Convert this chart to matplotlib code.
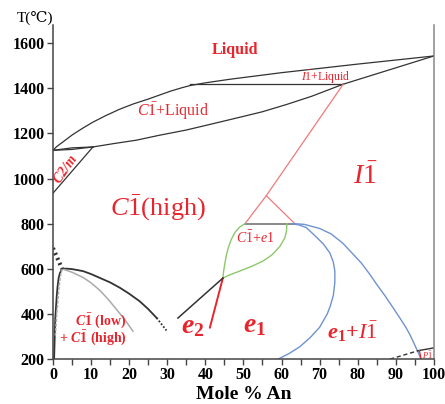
import matplotlib
matplotlib.use("Agg")
import matplotlib.pyplot as plt

plt.rcParams['font.family'] = ['Liberation Serif', 'DejaVu Serif']
plt.rcParams['mathtext.fontset'] = 'custom'
plt.rcParams['mathtext.rm'] = 'Liberation Serif'
plt.rcParams['mathtext.it'] = 'Liberation Serif:italic'
plt.rcParams['mathtext.bf'] = 'Liberation Serif:bold'
plt.rcParams['mathtext.bfit'] = 'Liberation Serif:italic:bold'

RED = "#e8252d"

# liquidus / solidus
liq_x = [0, 1, 2.6, 5.2, 8, 10.5, 14, 17.5, 21, 25, 28, 31, 34, 36, 40, 46.5, 60, 80, 100]
liq_T = [1125, 1142, 1162, 1195, 1225, 1250, 1280, 1307, 1330, 1352, 1370, 1388, 1403, 1412, 1424, 1440, 1469, 1507, 1543]
sol_x = [10.5, 16, 21.9, 28, 35, 42, 49.9, 55, 61.3, 68, 76.2]
sol_T = [1140, 1155, 1170, 1192, 1215, 1243, 1275, 1296, 1328, 1365, 1418]
sol_i_x = [76.2, 100]
sol_i_T = [1418, 1543]
peri_x = [36, 76.2]
peri_T = [1418, 1418]
lens_a_x = [0, 5, 10.5]
lens_a_T = [1125, 1136, 1140]
lens_b_x = [0, 5, 10.5]
lens_b_T = [1125, 1129, 1140]
c2m_x = [10.5, 0]
c2m_T = [1140, 935]

# C-1 / e1 region near 800
tie_x = [50.4, 63.5]
tie_T = [800, 800]
tri_x = [50.4, 56, 63.5]
tri_T = [800, 924, 800]
red_up_x = [56, 76.2]
red_up_T = [924, 1418]
green_l_x = [44.6, 44.8, 45.1, 45.5, 46, 46.8, 47.8, 49, 50.4]
green_l_T = [559, 590, 621, 658, 692, 730, 762, 785, 800]
green_r_x = [44.6, 46.5, 49, 52, 55.1, 57.5, 59.6, 60.8, 61.3, 61.4]
green_r_T = [559, 574, 590, 610, 634, 662, 700, 735, 765, 800]
red_lo_x = [44.6, 41.2]
red_lo_T = [559, 340]
blk_lo_x = [44.6, 32.8]
blk_lo_T = [559, 382]

# e1 / I-1 solvi
blue_in_x = [62.5, 64.5, 66.5, 69.2, 71, 72.7, 73.6, 74, 74, 73.6, 72.8, 72, 70, 67.5, 64.8, 62, 59.1]
blue_in_T = [800, 795, 783, 740, 710, 670, 630, 590, 540, 482, 435, 400, 341, 295, 255, 225, 200]
blue_out_x = [63.5, 66, 70, 73, 76, 78.8, 81, 83, 85, 87, 89, 91, 92.5, 93.7, 95, 96, 96.6]
blue_out_T = [800, 797, 779, 755, 715, 665, 625, 580, 531, 485, 435, 384, 345, 309, 262, 225, 200]

# Ab-rich solvi
solv_k_x = [2.4, 3.5, 5, 7.9, 10, 12.3, 15, 17.6, 20, 22.8, 25, 27.2]
solv_k_T = [600, 601, 599, 590, 577, 560, 540, 516, 490, 456, 422, 383]
solv_k_dot_x = [27.2, 29.8]
solv_k_dot_T = [383, 327]
solv_g_x = [2.4, 5, 7.9, 10, 12.3, 14.5, 16.7, 19, 21]
solv_g_T = [600, 585, 562, 538, 505, 465, 420, 372, 324]
steep_k_x = [2.4, 1.8, 1.5, 1.2, 1.0, 0.8, 0.6, 0.3]
steep_k_T = [600, 580, 560, 520, 480, 430, 380, 200]
steep_g_x = [2.4, 2.1, 1.9, 1.6, 1.4, 1.0, 0.6]
steep_g_T = [600, 580, 560, 520, 480, 400, 300]
hatch_x = [0, 2.4]
hatch_T = [692, 600]

# anorthite corner
dash_x = [88.5, 96]
dash_T = [200, 238]
pi_x = [96, 100]
pi_T = [238, 250]
pi_red_x = [96.6, 96.2]
pi_red_T = [205, 238]

fig = plt.figure(figsize=(4.45, 4.04), dpi=100)
ax = fig.add_axes([0.119, 0.111, 0.856, 0.827])

k = "#333333"
ax.plot(liq_x, liq_T, color=k, lw=0.9)
ax.plot(sol_x, sol_T, color=k, lw=0.9)
ax.plot(sol_i_x, sol_i_T, color=k, lw=0.9)
ax.plot(peri_x, peri_T, color=k, lw=0.9)
ax.plot(lens_a_x, lens_a_T, color=k, lw=0.9)
ax.plot(lens_b_x, lens_b_T, color=k, lw=0.9)
ax.plot(c2m_x, c2m_T, color=k, lw=0.9)

ax.plot(tie_x, tie_T, color="#777777", lw=1.2)
ax.plot(tri_x, tri_T, color="#f07a7a", lw=0.9)
ax.plot(red_up_x, red_up_T, color="#f07a7a", lw=0.9)
ax.plot(green_l_x, green_l_T, color="#8cc96a", lw=1.0)
ax.plot(green_r_x, green_r_T, color="#8cc96a", lw=1.0)
ax.plot(red_lo_x, red_lo_T, color="#e8252d", lw=1.4)
ax.plot(blk_lo_x, blk_lo_T, color=k, lw=1.1)

ax.plot(blue_in_x, blue_in_T, color="#6f93cf", lw=1.0)
ax.plot(blue_out_x, blue_out_T, color="#6f93cf", lw=1.0)

ax.plot(solv_k_x, solv_k_T, color=k, lw=1.3)
ax.plot(solv_k_dot_x, solv_k_dot_T, color=k, lw=1.3, ls=(0, (1, 1)))
ax.plot(solv_g_x, solv_g_T, color="#aaaaaa", lw=1.1)
ax.plot(steep_k_x, steep_k_T, color=k, lw=1.3)
ax.plot(steep_g_x, steep_g_T, color="#aaaaaa", lw=1.1, ls=(0, (2, 1)))
ax.plot(hatch_x, hatch_T, color=k, lw=3, ls=(0, (0.5, 0.8)))

ax.plot(dash_x, dash_T, color=k, lw=1.0, ls=(0, (3, 2)))
ax.plot(pi_x, pi_T, color=k, lw=1.0)
ax.plot(pi_red_x, pi_red_T, color=RED, lw=0.9)

# labels
ax.text(47.8, 1570, "Liquid", color=RED, fontsize=11.5, fontweight="bold", ha="center", va="center")
ax.text(31.5, 1300, r"$C\bar{1}$+Liquid", color=RED, fontsize=11.5, ha="center", va="center")
ax.text(71.7, 1450, r"$I\bar{1}$+Liquid", color=RED, fontsize=8.5, ha="center", va="center")
ax.text(82, 1010, r"$I\bar{1}$", color=RED, fontsize=20, ha="center", va="center")
ax.text(27.6, 868, r"$C\bar{1}$(high)", color=RED, fontsize=19, ha="center", va="center")
ax.text(53, 740, r"$C\bar{1}$+$e$1", color=RED, fontsize=10, ha="center", va="center")
ax.text(3.2, 1040, r"$\mathbfit{C2/m}$", color=RED, fontsize=10, rotation=55, ha="center", va="center")
ax.text(36.7, 345, r"$\mathbfit{e}_{\mathbf{2}}$", color=RED, fontsize=20, ha="center", va="center")
ax.text(53, 350, r"$\mathbfit{e}_{\mathbf{1}}$", color=RED, fontsize=20, ha="center", va="center")
ax.text(78.7, 322, r"$\mathbfit{e}_{\mathbf{1}}$+$I\bar{1}$", color=RED, fontsize=16, fontweight="bold", ha="center", va="center")
ax.text(12.5, 373, r"$\mathbfit{C}\mathbf{\bar{1}}$ (low)", color=RED, fontsize=10, fontweight="bold", ha="center", va="center")
ax.text(10.5, 295, r"+ $\mathbfit{C}\mathbf{\bar{1}}$ (high)", color=RED, fontsize=10, fontweight="bold", ha="center", va="center")
ax.text(98.4, 218, r"$P\bar{1}$", color=RED, fontsize=6, ha="center", va="center")

ax.set_xlim(0, 100)
ax.set_ylim(200, 1680)
ax.set_xticks(range(0, 101, 10))
ax.set_xticks(range(5, 100, 10), minor=True)
ax.set_yticks(range(200, 1601, 200))
ax.tick_params(direction="out", length=4, width=1, labelsize=11.5, pad=2, color="#444444")
ax.tick_params(which="minor", direction="out", length=4, width=1, color="#444444")
for lab in ax.get_xticklabels() + ax.get_yticklabels():
    lab.set_fontweight("bold")

ax.spines["top"].set_visible(False)
ax.spines["left"].set_color("#444444")
ax.spines["bottom"].set_color("#444444")
ax.spines["right"].set_color("#888888")
for s in ["left", "bottom", "right"]:
    ax.spines[s].set_linewidth(1.1)

ax.set_xlabel("Mole % An", fontsize=14, fontweight="bold", labelpad=2)
fig.text(0.079, 0.955, "T(\u2103)", fontsize=11, ha="center", va="center")

fig.savefig("out.png", dpi=100)
